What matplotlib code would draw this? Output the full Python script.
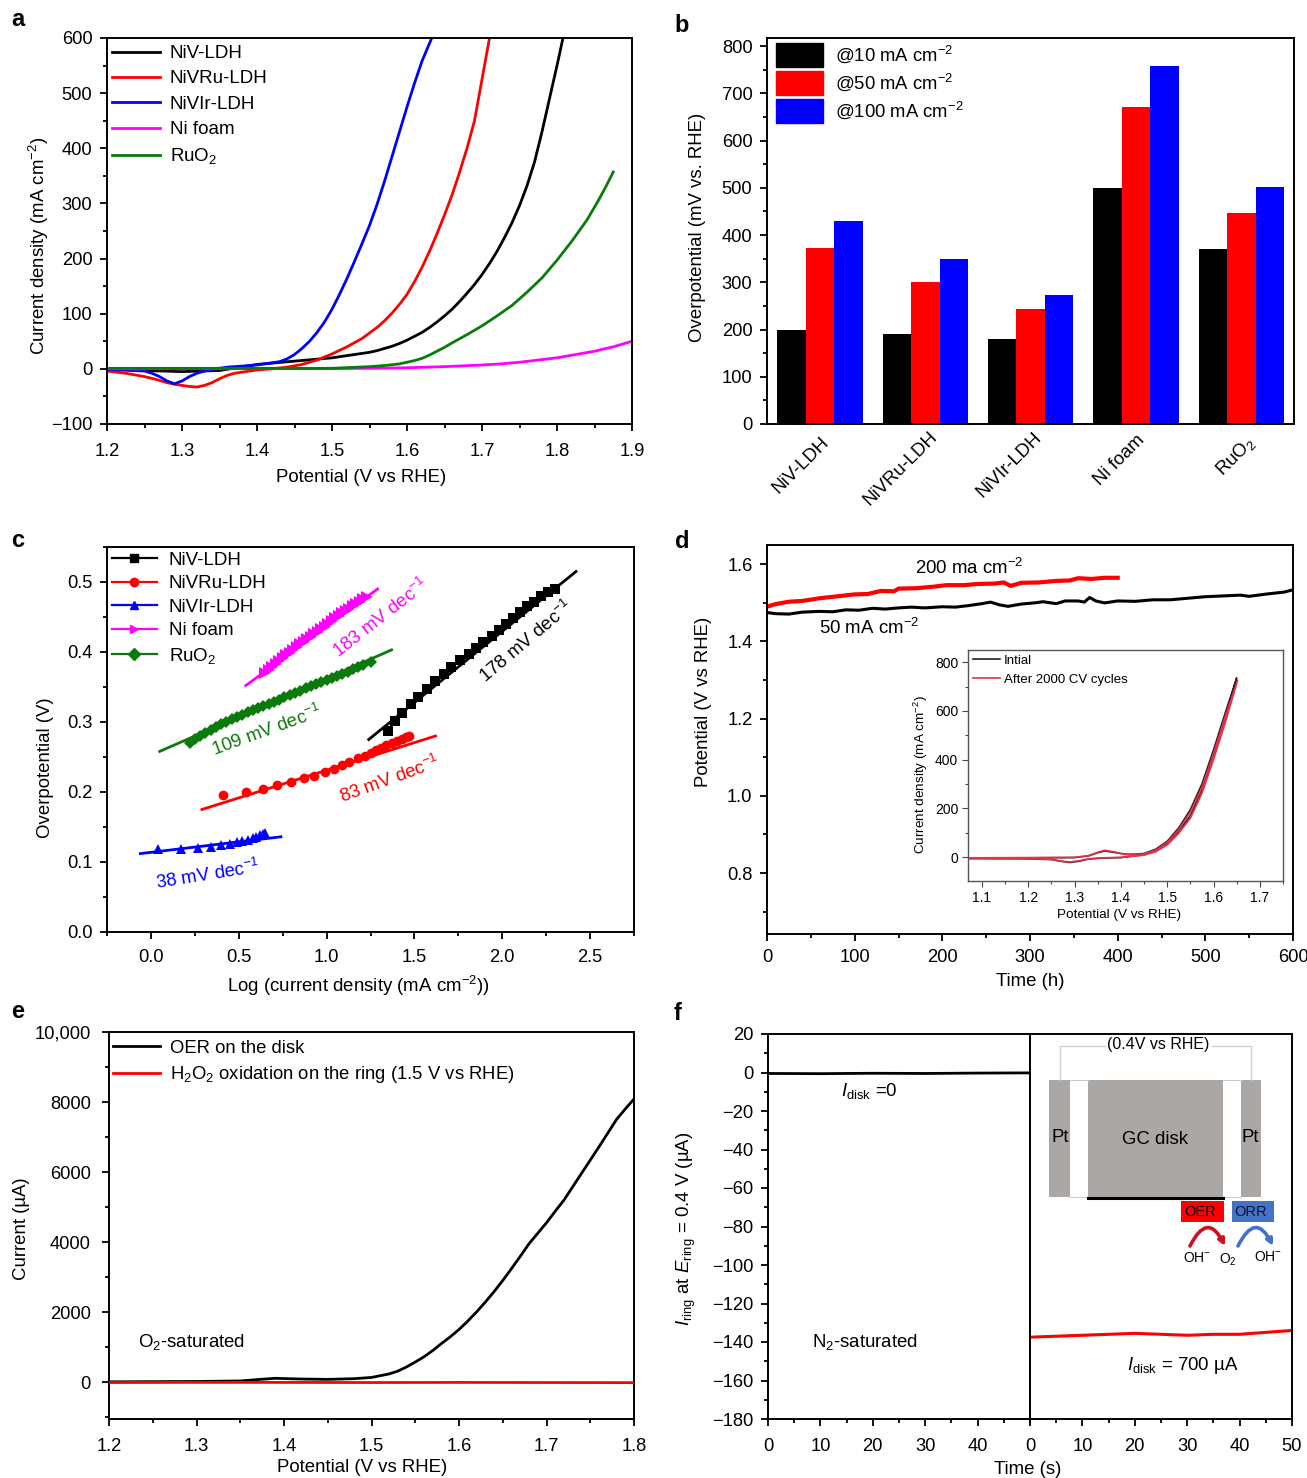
import numpy as np
import matplotlib
matplotlib.use('Agg')
import matplotlib.pyplot as plt
from matplotlib.lines import Line2D
from matplotlib.patches import Patch, Rectangle, FancyArrowPatch
from matplotlib.ticker import MultipleLocator

plt.rcParams['font.family'] = ['Liberation Sans', 'DejaVu Sans']
plt.rcParams['mathtext.fontset'] = 'custom'
plt.rcParams['mathtext.rm'] = 'Liberation Sans'
plt.rcParams['mathtext.it'] = 'Liberation Sans:italic'
plt.rcParams['mathtext.default'] = 'regular'
plt.rcParams['font.size'] = 13.4
plt.rcParams['axes.linewidth'] = 1.4

W, H = 1307, 1478
BLACK, RED, BLUE, MAGENTA, GREEN = '#000000', '#ff0000', '#0000ff', '#ff00ff', '#0a7a0a'

# panel a
a_names = ['NiV-LDH', 'NiVRu-LDH', 'NiVIr-LDH', 'Ni foam', 'RuO$_2$']
a_niv_x = [1.2, 1.25, 1.3, 1.35, 1.4, 1.45, 1.5, 1.55, 1.56, 1.57, 1.58, 1.59, 1.6, 1.61, 1.62, 1.63, 1.64, 1.65, 1.66, 1.67, 1.68, 1.69, 1.7, 1.71, 1.72, 1.73, 1.74, 1.75, 1.76, 1.77, 1.78, 1.79, 1.8, 1.808]
a_niv_y = [0, -3, -5, -3, 8, 14, 20, 30, 33, 37, 41, 46, 52, 59, 66, 75, 85, 96, 108, 122, 137, 153, 171, 191, 213, 238, 265, 296, 332, 375, 430, 490, 550, 600]
a_ru_x = [1.2, 1.225, 1.25, 1.265, 1.28, 1.29, 1.3, 1.31, 1.32, 1.33, 1.34, 1.35, 1.36, 1.37, 1.385, 1.4, 1.42, 1.44, 1.46, 1.48, 1.5, 1.52, 1.54, 1.56, 1.57, 1.58, 1.59, 1.6, 1.61, 1.62, 1.63, 1.64, 1.65, 1.66, 1.67, 1.68, 1.69, 1.7, 1.71]
a_ru_y = [-4, -8, -14, -19, -25, -28, -30, -32, -33, -30, -25, -18, -12, -8, -5, -2, 0, 3, 8, 16, 27, 40, 55, 75, 87, 101, 117, 135, 158, 184, 213, 245, 279, 315, 356, 400, 450, 525, 600]
a_ir_x = [1.2, 1.25, 1.26, 1.27, 1.28, 1.29, 1.3, 1.31, 1.32, 1.33, 1.345, 1.36, 1.4, 1.43, 1.44, 1.45, 1.46, 1.47, 1.48, 1.49, 1.5, 1.51, 1.52, 1.53, 1.54, 1.55, 1.56, 1.57, 1.58, 1.59, 1.6, 1.61, 1.62, 1.633]
a_ir_y = [-1, -4, -8, -14, -22, -27, -22, -14, -8, -4, 0, 3, 7, 13, 18, 26, 37, 50, 66, 85, 108, 135, 164, 195, 227, 260, 298, 340, 385, 430, 475, 518, 558, 600]
a_foam_x = [1.2, 1.5, 1.55, 1.6, 1.65, 1.7, 1.725, 1.75, 1.775, 1.8, 1.825, 1.85, 1.875, 1.9]
a_foam_y = [0, 0.5, 1, 2, 4, 7, 9, 12, 16, 20, 26, 32, 40, 50]
a_ruo_x = [1.2, 1.5, 1.55, 1.57, 1.59, 1.6, 1.61, 1.62, 1.63, 1.64, 1.65, 1.66, 1.68, 1.7, 1.72, 1.74, 1.76, 1.78, 1.8, 1.82, 1.84, 1.855, 1.865, 1.875]
a_ruo_y = [1, 1, 4, 6, 9, 12, 15, 19, 25, 32, 39, 47, 62, 78, 96, 115, 139, 165, 197, 232, 270, 305, 330, 357]

# panel b
b_groups = ['NiV-LDH', 'NiVRu-LDH', 'NiVIr-LDH', 'Ni foam', 'RuO$_2$']
b_10 = [200, 190, 180, 500, 370]
b_50 = [372, 300, 243, 672, 446]
b_100 = [430, 350, 272, 758, 502]
b_legend = ['@10 mA cm$^{-2}$', '@50 mA cm$^{-2}$', '@100 mA cm$^{-2}$']

# panel c
c_niv_x = [1.35, 1.39, 1.43, 1.48, 1.52, 1.57, 1.62, 1.67, 1.71, 1.76, 1.81, 1.85, 1.89, 1.94, 1.98, 2.02, 2.06, 2.1, 2.14, 2.18, 2.22, 2.26, 2.3]
c_niv_y = [.287, .302, .313, .325, .335, .347, .358, .368, .378, .388, .397, .406, .415, .423, .431, .44, .449, .457, .465, .472, .48, .485, .49]
c_ru_x = [.41, .54, .64, .72, .8, .87, .93, .99, 1.04, 1.09, 1.13, 1.18, 1.22, 1.25, 1.28, 1.31, 1.34, 1.37, 1.4, 1.43, 1.45, 1.47]
c_ru_y = [.196, .2, .205, .21, .215, .22, .223, .229, .233, .238, .243, .248, .252, .256, .26, .263, .267, .27, .273, .276, .278, .28]
c_ir_x = [.04, .17, .27, .34, .4, .45, .49, .52, .55, .58, .6, .62, .64, .65]
c_ir_y = [.118, .119, .12, .122, .124, .126, .128, .13, .132, .134, .136, .138, .14, .142]
c_foam_x = [.65, .67, .69, .71, .73, .75, .77, .79, .81, .83, .85, .87, .89, .91, .93, .95, .97, .99, 1.01, 1.03, 1.05, 1.07, 1.09, 1.11, 1.13, 1.15, 1.17, 1.19, 1.21, 1.23]
c_foam_y = [.37, .374, .379, .383, .387, .391, .395, .399, .403, .407, .411, .414, .418, .422, .425, .429, .433, .436, .44, .444, .448, .451, .455, .458, .462, .465, .469, .472, .475, .478]
c_ruo_x = [.22, .25, .28, .31, .34, .37, .4, .43, .46, .49, .52, .55, .58, .61, .64, .67, .7, .73, .76, .79, .82, .85, .88, .91, .94, .97, 1.0, 1.03, 1.06, 1.09, 1.12, 1.15, 1.18, 1.21, 1.25]
c_ruo_y = [.27, .275, .28, .285, .289, .293, .297, .3, .304, .307, .31, .314, .317, .32, .323, .326, .329, .332, .335, .339, .342, .345, .348, .351, .354, .357, .36, .363, .366, .369, .372, .375, .378, .381, .386]
c_fit_niv = ([1.24, 2.42], [.275, .515])
c_fit_ru = ([.29, 1.62], [.175, .28])
c_fit_ir = ([-.06, .74], [.112, .136])
c_fit_foam = ([.54, 1.29], [.352, .49])
c_fit_ruo = ([.05, 1.37], [.258, .403])

# panel d
d_50_t = [0, 10, 25, 40, 60, 75, 90, 105, 120, 135, 150, 165, 180, 200, 215, 230, 245, 255, 265, 275, 290, 305, 315, 330, 340, 355, 362, 368, 375, 385, 400, 420, 440, 460, 480, 500, 520, 540, 550, 570, 590, 600]
d_50_v = [1.475, 1.472, 1.471, 1.476, 1.478, 1.477, 1.482, 1.481, 1.486, 1.484, 1.487, 1.489, 1.487, 1.49, 1.489, 1.493, 1.498, 1.502, 1.495, 1.491, 1.497, 1.5, 1.503, 1.498, 1.505, 1.505, 1.502, 1.514, 1.505, 1.5, 1.505, 1.504, 1.508, 1.508, 1.512, 1.516, 1.518, 1.52, 1.517, 1.523, 1.528, 1.534]
d_200_t = [0, 10, 25, 40, 60, 80, 100, 115, 130, 145, 150, 170, 190, 205, 225, 240, 260, 270, 278, 290, 310, 330, 345, 355, 370, 385, 400]
d_200_v = [1.49, 1.497, 1.503, 1.505, 1.512, 1.517, 1.522, 1.523, 1.531, 1.53, 1.537, 1.538, 1.542, 1.546, 1.546, 1.549, 1.55, 1.553, 1.544, 1.552, 1.553, 1.557, 1.558, 1.564, 1.562, 1.565, 1.565]
ins_init_x = [1.07, 1.2, 1.25, 1.27, 1.29, 1.31, 1.33, 1.36, 1.4, 1.45, 1.475, 1.5, 1.525, 1.55, 1.575, 1.6, 1.625, 1.65, 1.625, 1.6, 1.575, 1.55, 1.525, 1.5, 1.475, 1.45, 1.43, 1.41, 1.39, 1.365, 1.35, 1.33, 1.3, 1.2, 1.07]
ins_init_y = [-6, -7, -10, -17, -22, -17, -8, -4, -2, 10, 25, 55, 105, 170, 275, 420, 570, 735, 590, 440, 300, 195, 120, 65, 32, 15, 12, 12, 18, 25, 18, 5, -2, -3, -4]
ins_cyc_x = [1.07, 1.2, 1.25, 1.27, 1.29, 1.31, 1.33, 1.36, 1.4, 1.45, 1.475, 1.5, 1.525, 1.55, 1.575, 1.6, 1.625, 1.652, 1.625, 1.6, 1.575, 1.55, 1.525, 1.5, 1.475, 1.45, 1.43, 1.41, 1.39, 1.365, 1.35, 1.33, 1.3, 1.2, 1.07]
ins_cyc_y = [-5, -6, -9, -16, -20, -15, -7, -3, -1, 8, 22, 50, 98, 160, 262, 400, 550, 725, 575, 425, 285, 185, 112, 60, 28, 13, 10, 10, 20, 28, 20, 6, -1, -2, -3]

# panel e
e_x = [1.2, 1.3, 1.35, 1.37, 1.39, 1.42, 1.45, 1.48, 1.5, 1.52, 1.53, 1.54, 1.55, 1.56, 1.57, 1.58, 1.59, 1.6, 1.61, 1.62, 1.63, 1.64, 1.65, 1.66, 1.67, 1.68, 1.69, 1.7, 1.71, 1.72, 1.73, 1.74, 1.75, 1.76, 1.77, 1.78, 1.79, 1.8]
e_oer = [5, 15, 30, 70, 105, 85, 75, 95, 130, 230, 310, 430, 570, 720, 900, 1100, 1290, 1500, 1740, 2000, 2280, 2580, 2900, 3240, 3590, 3950, 4250, 4550, 4880, 5200, 5580, 5960, 6340, 6720, 7110, 7500, 7800, 8085]
e_ring_x = [1.2, 1.3, 1.4, 1.5, 1.6, 1.7, 1.8]
e_ring = [-15, -10, -12, -15, -12, -15, -18]

# panel f
f_off_t = [0, 10, 20, 30, 40, 50]
f_off_i = [-0.5, -0.6, -0.4, -0.5, -0.3, -0.2]
f_on_t = [0, 5, 10, 15, 20, 25, 30, 35, 40, 45, 50]
f_on_i = [-137.5, -137, -136.5, -136, -135.5, -136, -136.5, -136, -136, -135, -134]


def px_axes(left, top, right, bottom):
    return fig.add_axes([left / W, 1 - bottom / H, (right - left) / W, (bottom - top) / H])


def style(ax, xmaj=None, xmin=None, ymaj=None, ymin=None, xpad=5):
    if xmaj:
        ax.xaxis.set_major_locator(MultipleLocator(xmaj))
    if xmin:
        ax.xaxis.set_minor_locator(MultipleLocator(xmin))
    if ymaj:
        ax.yaxis.set_major_locator(MultipleLocator(ymaj))
    if ymin:
        ax.yaxis.set_minor_locator(MultipleLocator(ymin))
    ax.tick_params(which='major', length=5, width=1.3, labelsize=13.2)
    ax.tick_params(which='minor', length=3, width=1.3)
    ax.tick_params(axis='x', pad=xpad)
    ax.tick_params(axis='y', pad=5.5)


def ftext(x, y, s, **kw):
    kw.setdefault('ha', 'center')
    kw.setdefault('va', 'center')
    kw.setdefault('fontsize', 13.4)
    return fig.text(x / W, 1 - y / H, s, **kw)


fig = plt.figure(figsize=(W / 100, H / 100), dpi=100)

for letter, x, y in [('a', 18, 20), ('b', 682, 26), ('c', 18, 540), ('d', 682, 542), ('e', 18, 1011), ('f', 678, 1013)]:
    ftext(x, y, letter, fontsize=17, fontweight='bold')

# a
ax = px_axes(107, 38, 632, 424)
ax.plot(a_niv_x, a_niv_y, color=BLACK, lw=2, label=a_names[0])
ax.plot(a_ru_x, a_ru_y, color=RED, lw=2, label=a_names[1])
ax.plot(a_ir_x, a_ir_y, color=BLUE, lw=2, label=a_names[2])
ax.plot(a_foam_x, a_foam_y, color=MAGENTA, lw=2, label=a_names[3])
ax.plot(a_ruo_x, a_ruo_y, color=GREEN, lw=2, label=a_names[4])
ax.set_xlim(1.2, 1.9)
ax.set_ylim(-100, 600)
style(ax, .1, .05, 100, 50, xpad=9)
ax.legend(loc='upper left', bbox_to_anchor=(0, .995), frameon=False, fontsize=13.5, handlelength=2.55,
          handletextpad=.53, labelspacing=.44, borderaxespad=.1, borderpad=.17)
ftext(361, 477, 'Potential (V vs RHE)')
ftext(39, 246, 'Current density (mA cm$^{-2}$)', rotation=90)

# b
ax = px_axes(767, 38, 1294, 424)
idx = np.arange(len(b_groups))
bw = .27
ax.bar(idx - bw, b_10, bw, color=BLACK)
ax.bar(idx, b_50, bw, color=RED)
ax.bar(idx + bw, b_100, bw, color=BLUE)
ax.set_xlim(-.503, 4.5)
ax.set_ylim(0, 817)
style(ax, ymaj=100, ymin=50)
ax.set_xticks([])
for name, cx, cy in zip(b_groups, [801, 901, 1009, 1119, 1236], [465, 469, 465, 460, 456]):
    ftext(cx, cy, name, rotation=45, rotation_mode='default')
ax.legend(handles=[Patch(color=c, label=s) for c, s in zip([BLACK, RED, BLUE], b_legend)],
          loc='upper left', bbox_to_anchor=(0, 1.01), frameon=False, fontsize=13.3, handlelength=2.55,
          handleheight=1.6, handletextpad=.64, labelspacing=.24, borderaxespad=.25, borderpad=.23)
ftext(698, 227, 'Overpotential (mV vs. RHE)', rotation=90)

# c
ax = px_axes(107, 547, 634, 932)
c_series = [(c_niv_x, c_niv_y, c_fit_niv, BLACK, 's', 6.5), (c_ru_x, c_ru_y, c_fit_ru, RED, 'o', 7),
            (c_ir_x, c_ir_y, c_fit_ir, BLUE, '^', 7), (c_foam_x, c_foam_y, c_fit_foam, MAGENTA, '>', 8),
            (c_ruo_x, c_ruo_y, c_fit_ruo, GREEN, 'D', 6.5)]
handles = []
for (sx, sy, fit, col, mk, ms), name in zip(c_series, a_names):
    ax.plot(fit[0], fit[1], color=col, lw=2)
    ax.plot(sx, sy, ls='none', marker=mk, ms=ms, mew=0, color=col)
    handles.append(Line2D([], [], color=col, lw=1.6, marker=mk, ms=6, label=name))
ax.set_xlim(-.25, 2.75)
ax.set_ylim(0, .55)
style(ax, .5, .25, .1, .05, xpad=7)
ax.legend(handles=handles, loc='upper left', frameon=False, fontsize=13.5, handlelength=2.4, handletextpad=.64,
          labelspacing=.34, borderaxespad=.1, borderpad=.15)
ftext(358, 986, 'Log (current density (mA cm$^{-2}$))')
ftext(45, 768, 'Overpotential (V)', rotation=90)
ftext(381, 618, '183 mV dec$^{-1}$', color=MAGENTA, rotation=38)
ftext(526, 642, '178 mV dec$^{-1}$', color=BLACK, rotation=40)
ftext(267, 731, '109 mV dec$^{-1}$', color=GREEN, rotation=20)
ftext(390, 779, '83 mV dec$^{-1}$', color=RED, rotation=20)
ftext(208, 875, '38 mV dec$^{-1}$', color=BLUE, rotation=9)

# d
ax = px_axes(767, 545, 1293, 934)
ax.plot(d_50_t, d_50_v, color=BLACK, lw=2.2)
ax.plot(d_200_t, d_200_v, color=RED, lw=3)
ax.set_xlim(0, 600)
ax.set_ylim(.642, 1.65)
style(ax, 100, 50, .2, .1, xpad=6)
ftext(1030, 982, 'Time (h)')
ftext(704, 702, 'Potential (V vs RHE)', rotation=90)
ftext(969, 568, '200 ma cm$^{-2}$')
ftext(869, 628, '50 mA cm$^{-2}$')

ins = px_axes(968, 650, 1283, 881)
ins.plot(ins_init_x, ins_init_y, color='#222222', lw=1.2, label='Intial')
ins.plot(ins_cyc_x, ins_cyc_y, color='#e8304a', lw=1.2, label='After 2000 CV cycles')
ins.set_xlim(1.07, 1.75)
ins.set_ylim(-98, 850)
ins.xaxis.set_major_locator(MultipleLocator(.1))
ins.xaxis.set_minor_locator(MultipleLocator(.05))
ins.yaxis.set_major_locator(MultipleLocator(200))
ins.yaxis.set_minor_locator(MultipleLocator(100))
ins.tick_params(which='major', length=4, width=.8, labelsize=10, pad=3, color='#444444')
ins.tick_params(which='minor', length=2, width=.8, color='#444444')
for s in ins.spines.values():
    s.set_linewidth(1)
    s.set_color('#555555')
ins.legend(loc='upper left', frameon=False, fontsize=9.5, handlelength=2.1, handletextpad=.25,
           labelspacing=.5, borderaxespad=.1, borderpad=.25)
ftext(1119, 915, 'Potential (V vs RHE)', fontsize=9.7)
ftext(921, 775, 'Current density (mA cm$^{-2}$)', fontsize=9.7, rotation=90)

# e
ax = px_axes(109, 1032, 634, 1419)
ax.plot(e_x, e_oer, color=BLACK, lw=2)
ax.plot(e_ring_x, e_ring, color=RED, lw=2, zorder=3)
ax.set_xlim(1.2, 1.8)
ax.set_ylim(-1057, 10000)
style(ax, .1, .05, 2000, 1000, xpad=9)
ax.set_yticks([0, 2000, 4000, 6000, 8000, 10000])
ax.set_yticklabels(['0', '2000', '4000', '6000', '8000', '10,000'])
ax.tick_params(axis='y', pad=8)
ax.legend(handles=[Line2D([], [], color=BLACK, lw=2, label='OER on the disk'),
                   Line2D([], [], color=RED, lw=2, label='H$_2$O$_2$ oxidation on the ring (1.5 V vs RHE)')],
          loc='upper left', bbox_to_anchor=(0, .99), frameon=False, fontsize=13.3, handlelength=2.55,
          handletextpad=.55, labelspacing=.42, borderaxespad=.1, borderpad=.1)
ftext(362, 1467, 'Potential (V vs RHE)')
ftext(22, 1229, 'Current (µA)', rotation=90)
ftext(192, 1342, 'O$_2$-saturated')

# f
axl = px_axes(768, 1034, 1030, 1419)
axr = px_axes(1030, 1034, 1292, 1419)
axl.plot(f_off_t, f_off_i, color=BLACK, lw=2)
axr.plot(f_on_t, f_on_i, color=RED, lw=2.2)
for a in (axl, axr):
    a.set_xlim(0, 50)
    a.set_ylim(-180, 20)
    style(a, 10, 5, 20, 10, xpad=9)
axl.set_xticks([0, 10, 20, 30, 40])
axr.tick_params(axis='y', which='both', left=False, labelleft=False)
ftext(1028, 1470, 'Time (s)')
ftext(686, 1229, '$\\mathit{I}_{ring}$ at $\\mathit{E}_{ring}$ = 0.4 V (µA)', rotation=90)
ftext(869, 1091, '$\\mathit{I}_{disk}$ =0')
ftext(865, 1342, 'N$_2$-saturated')
ftext(1183, 1365, '$\\mathit{I}_{disk}$ = 700 µA')

# electrode sketch drawn in pixel coordinates on top of panel f
ov = fig.add_axes([0, 0, 1, 1], facecolor='none')
ov.set_xlim(0, W)
ov.set_ylim(H, 0)
ov.axis('off')
GREY = '#aba7a5'
ov.plot([1060, 1060, 1105], [1080, 1046, 1046], color='#cccccc', lw=.9)
ov.plot([1212, 1251, 1251], [1046, 1046, 1080], color='#cccccc', lw=.9)
ov.add_patch(Rectangle((1049, 1080), 21, 117, color=GREY, lw=0))
ov.add_patch(Rectangle((1241, 1080), 20, 117, color=GREY, lw=0))
ov.add_patch(Rectangle((1088, 1080), 135, 117, color=GREY, lw=0))
ov.plot([1070, 1088], [1197, 1197], color='#cccccc', lw=.8)
ov.plot([1223, 1241], [1197, 1197], color='#cccccc', lw=.8)
ov.plot([1070, 1088], [1080, 1080], color='#cccccc', lw=.8)
ov.plot([1223, 1241], [1080, 1080], color='#cccccc', lw=.8)
ov.plot([1088, 1223], [1198, 1198], color=BLACK, lw=2.2)
ov.add_patch(Rectangle((1181, 1201), 43, 21, color='#ff0000', lw=0))
ov.add_patch(Rectangle((1232, 1201), 42, 21, color='#4472c4', lw=0))
ov.add_patch(FancyArrowPatch((1190, 1246), (1225, 1246), connectionstyle='arc3,rad=-1.0',
                             arrowstyle='-|>', mutation_scale=9, color='#d01020', lw=2.6,
                             shrinkA=0, shrinkB=0))
ov.add_patch(FancyArrowPatch((1238, 1246), (1273, 1246), connectionstyle='arc3,rad=-1.0',
                             arrowstyle='-|>', mutation_scale=9, color='#4472c4', lw=2.6,
                             shrinkA=0, shrinkB=0))
ftext(1158, 1045, '(0.4V vs RHE)', fontsize=11.5)
ftext(1060, 1138, 'Pt')
ftext(1250, 1138, 'Pt')
ftext(1155, 1139, 'GC disk')
ftext(1200, 1212, 'OER', fontsize=10.5)
ftext(1251, 1212, 'ORR', fontsize=10.5, color='#111133')
ftext(1197, 1258, 'OH$^{-}$', fontsize=10)
ftext(1228, 1260, 'O$_2$', fontsize=10)
ftext(1268, 1257, 'OH$^{-}$', fontsize=10)

fig.savefig('out.png', dpi=100)
